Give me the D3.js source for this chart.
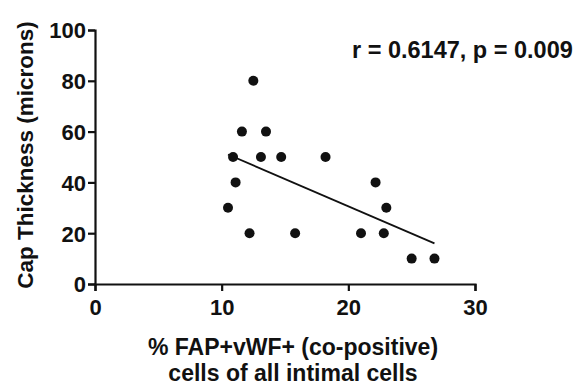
<!DOCTYPE html>
<html>
<head>
<meta charset="utf-8">
<script src="https://cdn.jsdelivr.net/npm/d3@7"></script>
<style>
  body { margin: 0; background: #fff; }
  text { font-family: "Liberation Sans", Arial, sans-serif; font-weight: bold; fill: #111; }
</style>
</head>
<body>
<div id="chart"></div>
<script>
// data
var fapPercent = [12.5, 11.6, 13.5, 10.9, 13.1, 14.7, 11.1, 18.2, 22.15, 10.5, 12.2, 15.8, 23.0, 21.0, 22.8, 25.0, 26.8];
var capThickness = [80, 60, 60, 50, 50, 50, 40, 50, 40, 30, 20, 20, 30, 20, 20, 10, 10];
var fitX = [10.5, 26.8];
var fitY = [51, 16];
var xTicks = [0, 10, 20, 30];
var yTicks = [0, 20, 40, 60, 80, 100];
var statsLabel = "r = 0.6147, p = 0.009";

var w = 579, h = 390;
var margin = {left: 95, top: 30, right: 104, bottom: 106};

var svg = d3.select("#chart").append("svg")
  .attr("width", w)
  .attr("height", h);

var x = d3.scaleLinear().domain([0, 30]).range([margin.left, w - margin.right]);
var y = d3.scaleLinear().domain([0, 100]).range([h - margin.bottom, margin.top]);

// axes
var xAxis = svg.append("g")
  .attr("transform", "translate(0," + y(0) + ")")
  .call(d3.axisBottom(x).tickValues(xTicks).tickSize(7).tickPadding(8).tickFormat(d3.format("d")));
var yAxis = svg.append("g")
  .attr("transform", "translate(" + x(0) + ",0)")
  .call(d3.axisLeft(y).tickValues(yTicks).tickSize(7).tickPadding(2).tickFormat(d3.format("d")));

[xAxis, yAxis].forEach(function(a) {
  a.select(".domain").attr("stroke", "#111").attr("stroke-width", 2.2);
  a.selectAll(".tick line").attr("stroke", "#111").attr("stroke-width", 2.2);
  a.selectAll(".tick text").style("font-size", "22px").style("font-family", "Liberation Sans, Arial, sans-serif").style("font-weight", "bold").attr("fill", "#111");
});
yAxis.selectAll(".tick text").attr("dy", "0.36em");

// regression line
svg.append("line")
  .attr("x1", x(fitX[0])).attr("y1", y(fitY[0]))
  .attr("x2", x(fitX[1])).attr("y2", y(fitY[1]))
  .attr("stroke", "#111")
  .attr("stroke-width", 1.8);

// points
svg.append("g").selectAll("circle")
  .data(fapPercent)
  .enter().append("circle")
  .attr("cx", function(d) { return x(d); })
  .attr("cy", function(d, i) { return y(capThickness[i]); })
  .attr("r", 5)
  .attr("fill", "#111");

// labels
svg.append("text")
  .attr("transform", "translate(33,155) rotate(-90)")
  .attr("text-anchor", "middle")
  .style("font-size", "22.5px")
  .text("Cap Thickness (microns)");

svg.append("text")
  .attr("x", 293).attr("y", 355)
  .attr("text-anchor", "middle")
  .style("font-size", "23px")
  .text("% FAP+vWF+ (co-positive)");
svg.append("text")
  .attr("x", 293).attr("y", 381)
  .attr("text-anchor", "middle")
  .style("font-size", "23px")
  .text("cells of all intimal cells");

svg.append("text")
  .attr("x", 352).attr("y", 58)
  .style("font-size", "23.5px")
  .text(statsLabel);
</script>
</body>
</html>
